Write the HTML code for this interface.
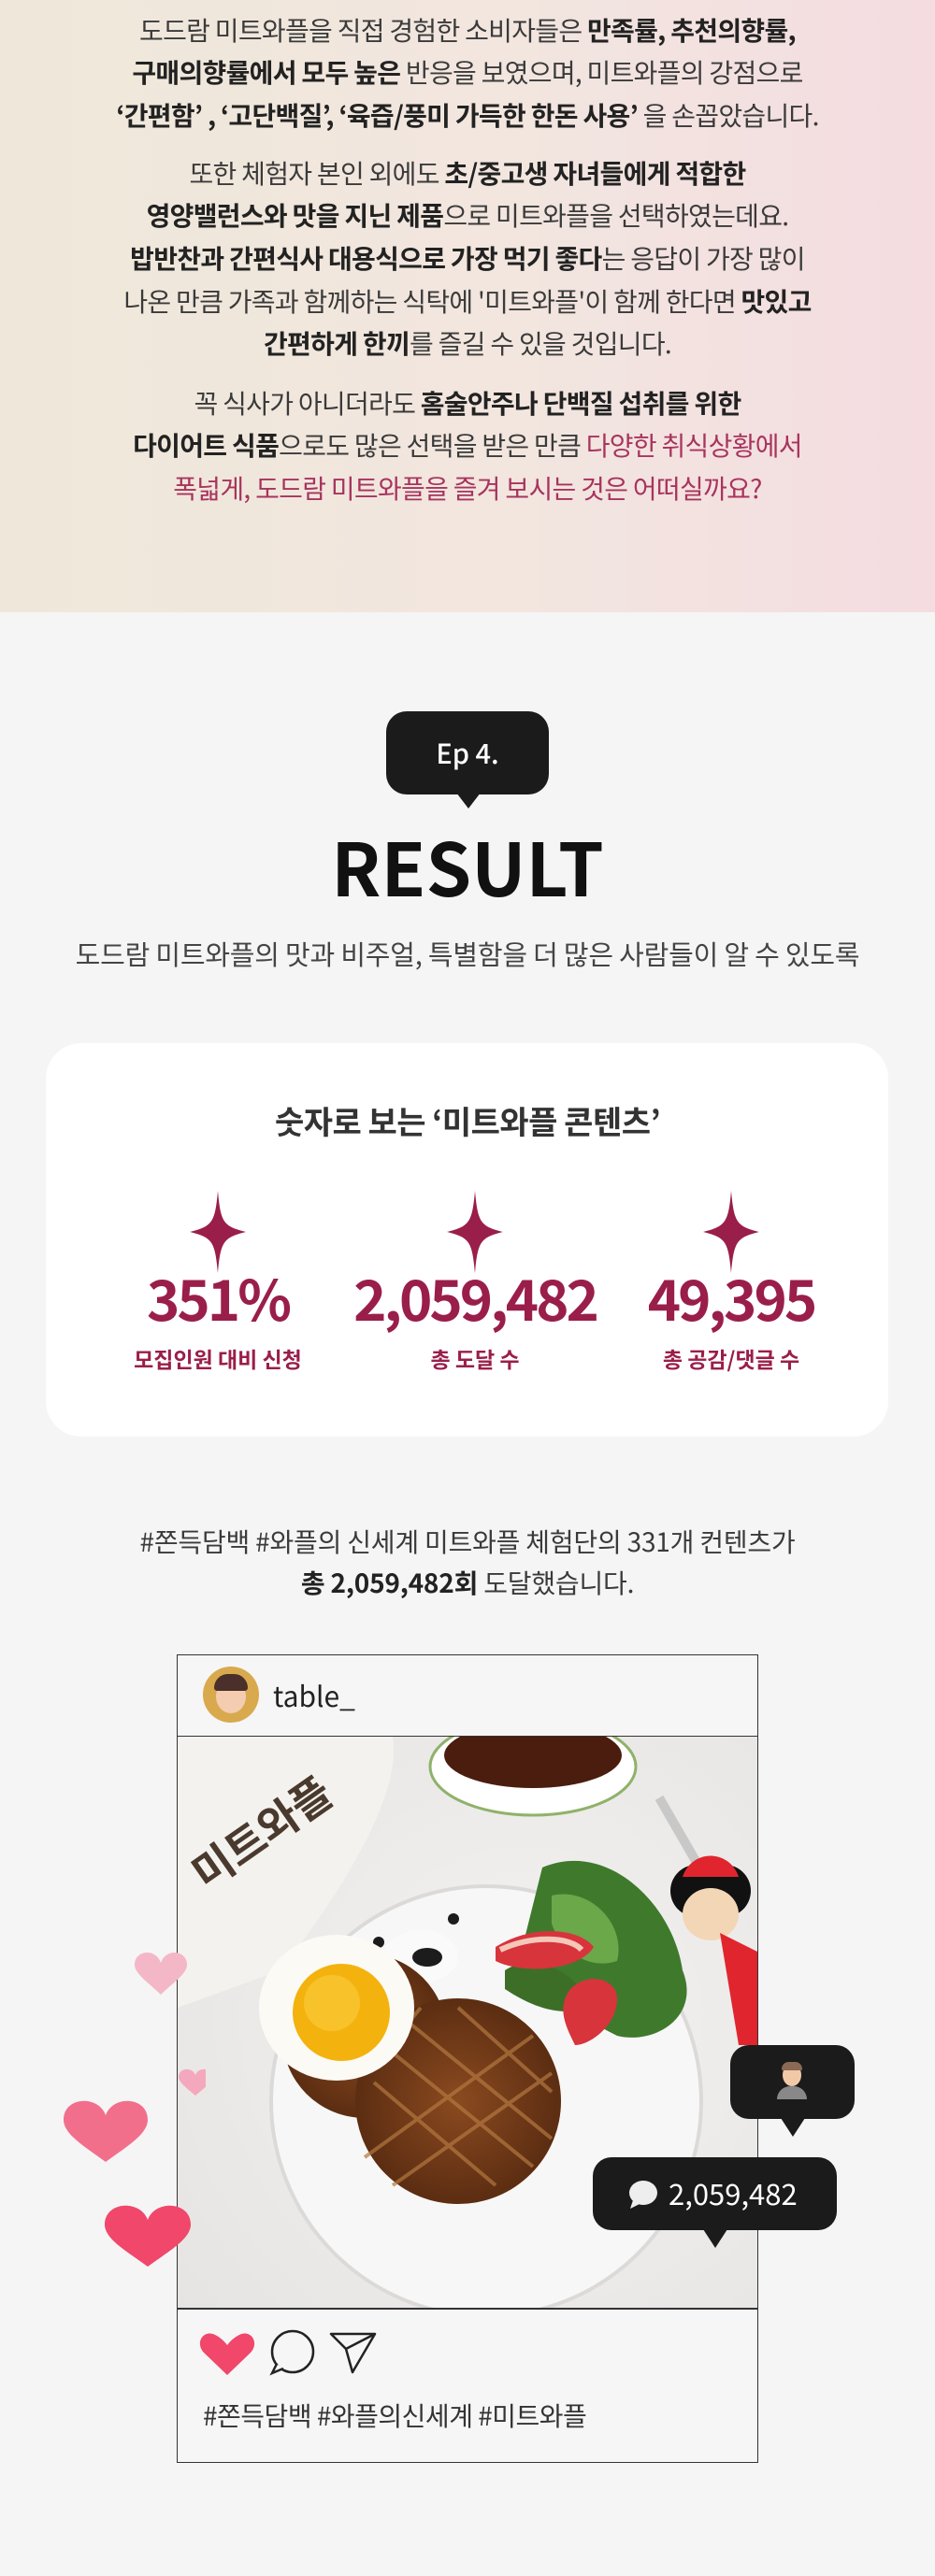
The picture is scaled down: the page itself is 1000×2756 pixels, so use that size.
<!DOCTYPE html>
<html><head><meta charset="utf-8">
<style>
*{margin:0;padding:0;box-sizing:border-box}
body{width:1000px;height:2756px;background:#f5f5f5;font-family:"Noto Sans CJK KR","Liberation Sans",sans-serif;position:relative;overflow:hidden}
.abs{position:absolute}
#top{left:0;top:0;width:1000px;height:655px;background:linear-gradient(90deg,#efe8da 0%,#f2e6df 55%,#f4dce1 100%)}
.tl{position:absolute;left:0;width:1000px;text-align:center;font-size:28px;color:#3a3a3a;line-height:46px;letter-spacing:-0.7px}
.tl b{color:#222;font-weight:700}
.pk{color:#a8345e}
.c{position:absolute;left:0;width:1000px;text-align:center}
</style></head><body>
<div id="top" class="abs">
<div class="tl" style="top:9px">도드람 미트와플을 직접 경험한 소비자들은 <b>만족률, 추천의향률,</b></div>
<div class="tl" style="top:54px"><b>구매의향률에서 모두 높은</b> 반응을 보였으며, 미트와플의 강점으로</div>
<div class="tl" style="top:100px"><b>‘간편함’ , ‘고단백질’, ‘육즙/풍미 가득한 한돈 사용’</b> 을 손꼽았습니다.</div>
<div class="tl" style="top:162px">또한 체험자 본인 외에도 <b>초/중고생 자녀들에게 적합한</b></div>
<div class="tl" style="top:207px"><b>영양밸런스와 맛을 지닌 제품</b>으로 미트와플을 선택하였는데요.</div>
<div class="tl" style="top:253px"><b>밥반찬과 간편식사 대용식으로 가장 먹기 좋다</b>는 응답이 가장 많이</div>
<div class="tl" style="top:299px">나온 만큼 가족과 함께하는 식탁에 '미트와플'이 함께 한다면 <b>맛있고</b></div>
<div class="tl" style="top:344px"><b>간편하게 한끼</b>를 즐길 수 있을 것입니다.</div>
<div class="tl" style="top:408px">꼭 식사가 아니더라도 <b>홈술안주나 단백질 섭취를 위한</b></div>
<div class="tl" style="top:453px"><b>다이어트 식품</b>으로도 많은 선택을 받은 만큼 <span class="pk">다양한 취식상황에서</span></div>
<div class="tl pk" style="top:499px">폭넓게, 도드람 미트와플을 즐겨 보시는 것은 어떠실까요?</div>
</div>

<div class="abs" style="left:413px;top:761px;width:174px;height:89px;background:#1b1b1b;border-radius:22px">
<div style="color:#fff;font-size:29px;text-align:center;line-height:89px;font-weight:500">Ep 4.</div></div>
<div class="abs" style="left:488px;top:848px;width:0;height:0;border-left:13px solid transparent;border-right:13px solid transparent;border-top:17px solid #1b1b1b"></div>
<div class="c" style="top:876px;font-size:78px;font-weight:700;color:#111;line-height:100px">RESULT</div>
<div class="c" style="top:1000px;font-size:29px;color:#444;line-height:40px;letter-spacing:-0.2px">도드람 미트와플의 맛과 비주얼, 특별함을 더 많은 사람들이 알 수 있도록</div>

<div class="abs" style="left:49px;top:1116px;width:901px;height:421px;background:#fff;border-radius:38px"></div>
<div class="c" style="top:1176px;font-size:34px;font-weight:700;color:#333;line-height:46px;letter-spacing:-0.5px">숫자로 보는 ‘미트와플 콘텐츠’</div>

<svg class="abs" style="left:0;top:1270px" width="1000" height="100">
<g fill="#9a1e4a">
<path transform="translate(233,48)" d="M0,-44 C3,-10 6,-6 30,0 C6,6 3,10 0,44 C-3,10 -6,6 -30,0 C-6,-6 -3,-10 0,-44Z"/>
<path transform="translate(508,48)" d="M0,-44 C3,-10 6,-6 30,0 C6,6 3,10 0,44 C-3,10 -6,6 -30,0 C-6,-6 -3,-10 0,-44Z"/>
<path transform="translate(782,48)" d="M0,-44 C3,-10 6,-6 30,0 C6,6 3,10 0,44 C-3,10 -6,6 -30,0 C-6,-6 -3,-10 0,-44Z"/>
</g></svg>

<div class="abs" style="left:83px;top:1348px;width:300px;text-align:center;font-size:60px;font-weight:700;color:#9a1e4a;letter-spacing:-3px;line-height:80px">351%</div>
<div class="abs" style="left:358px;top:1348px;width:300px;text-align:center;font-size:60px;font-weight:700;color:#9a1e4a;letter-spacing:-3px;line-height:80px">2,059,482</div>
<div class="abs" style="left:632px;top:1348px;width:300px;text-align:center;font-size:60px;font-weight:700;color:#9a1e4a;letter-spacing:-3px;line-height:80px">49,395</div>
<div class="abs" style="left:83px;top:1436px;width:300px;text-align:center;font-size:23px;font-weight:700;color:#9a1e4a;line-height:34px">모집인원 대비 신청</div>
<div class="abs" style="left:358px;top:1436px;width:300px;text-align:center;font-size:23px;font-weight:700;color:#9a1e4a;line-height:34px">총 도달 수</div>
<div class="abs" style="left:632px;top:1436px;width:300px;text-align:center;font-size:23px;font-weight:700;color:#9a1e4a;line-height:34px">총 공감/댓글 수</div>

<div class="c" style="top:1627px;font-size:28px;color:#3a3a3a;line-height:44px;letter-spacing:-0.2px">#쫀득담백 #와플의 신세계 미트와플 체험단의 331개 컨텐츠가<br><b style="color:#222">총 2,059,482회</b> 도달했습니다.</div>

<div class="abs" style="left:189px;top:1770px;width:622px;height:865px;border:1.5px solid #333;background:#f6f6f6"></div>
<div class="abs" style="left:217px;top:1783px;width:60px;height:60px;border-radius:50%;background:#d9a94e;overflow:hidden">
<div style="position:absolute;left:14px;top:14px;width:32px;height:36px;border-radius:50%;background:#f4cdb0"></div>
<div style="position:absolute;left:12px;top:8px;width:36px;height:18px;border-radius:18px 18px 4px 4px;background:#4a2f2a"></div></div>
<div class="abs" style="left:292px;top:1792px;font-size:30px;color:#222;line-height:42px">table_</div>
<div class="abs" style="left:189px;top:1857px;width:622px;height:1.5px;background:#333"></div>

<svg class="abs" style="left:190px;top:1858px" width="620" height="611">
<defs>
<radialGradient id="bg" cx="0.6" cy="0.5" r="0.8"><stop offset="0" stop-color="#f3f2f1"/><stop offset="1" stop-color="#e6e4e2"/></radialGradient>
<radialGradient id="wf" cx="0.5" cy="0.5" r="0.5"><stop offset="0" stop-color="#8a4a1f"/><stop offset="1" stop-color="#5c2d12"/></radialGradient>
</defs>
<rect width="620" height="611" fill="url(#bg)"/>
<path d="M0,0 L230,0 C240,60 180,160 110,250 L0,290 Z" fill="#f4f2ee"/>
<text x="10" y="140" font-size="46" font-weight="700" fill="#4a3a2e" transform="rotate(-35 60 120)" font-family="Noto Sans CJK KR">미트와플</text>
<ellipse cx="380" cy="32" rx="110" ry="52" fill="#fff" stroke="#8fb26a" stroke-width="3"/>
<ellipse cx="380" cy="20" rx="95" ry="35" fill="#4a1d0e"/>
<circle cx="330" cy="390" r="230" fill="#f7f7f7" stroke="#dcdad8" stroke-width="4"/>
<ellipse cx="260" cy="235" rx="40" ry="28" fill="#fafafa"/>
<ellipse cx="267" cy="236" rx="16" ry="10" fill="#1c1c1c"/>
<circle cx="215" cy="220" r="6" fill="#1c1c1c"/><circle cx="295" cy="195" r="6" fill="#1c1c1c"/>
<path d="M390,140 C460,110 530,180 540,250 C560,300 510,330 470,320 C430,300 380,270 370,220 Z" fill="#3f7a2c"/>
<path d="M400,170 C440,160 480,200 470,240 C440,250 410,230 400,200 Z" fill="#6aa84a"/>
<path d="M350,250 C380,230 430,250 440,290 C410,300 380,290 350,270 Z" fill="#3c6e27"/>
<path d="M340,225 C380,200 430,205 445,225 C430,250 370,255 340,240 Z" fill="#d8343c"/>
<path d="M420,270 C440,250 470,260 470,280 C470,310 440,330 425,330 C415,310 405,290 420,270 Z" fill="#d8343c"/>
<path d="M345,228 C380,212 420,214 432,228" stroke="#f4c7b9" stroke-width="6" fill="none"/>
<circle cx="200" cy="320" r="88" fill="url(#wf)"/>
<circle cx="300" cy="390" r="110" fill="url(#wf)"/>
<g stroke="#b37840" stroke-width="4" opacity="0.7">
<path d="M220,330 L380,460 M240,300 L400,430 M210,370 L340,480 M300,290 L400,380 M200,450 L380,320 M230,480 L400,360 M260,290 L210,350"/>
</g>
<ellipse cx="170" cy="290" rx="83" ry="78" fill="#fbfaf5"/>
<circle cx="175" cy="295" r="52" fill="#f4b20e"/>
<circle cx="165" cy="285" r="30" fill="#f9c532" opacity="0.8"/>
<rect x="530" y="60" width="10" height="90" fill="#c8c8c8" transform="rotate(-30 535 100)"/>
<circle cx="555" cy="165" r="28" fill="#111"/><circle cx="585" cy="165" r="28" fill="#111"/>
<ellipse cx="570" cy="190" rx="30" ry="28" fill="#f3d6b6"/>
<path d="M540,150 C550,120 590,120 600,150 Z" fill="#e1252f"/>
<path d="M580,210 L620,230 L620,330 L600,330 Z" fill="#e1252f"/>
</svg>
<div class="abs" style="left:189px;top:2469px;width:622px;height:1.5px;background:#333"></div>

<svg class="abs" style="left:210px;top:2488px" width="200" height="60">
<path d="M33,47 L8,23 C-2,12 8,-2 20,4 C26,7 30,11 33,15 C36,11 40,7 46,4 C58,-2 68,12 58,23 Z" transform="translate(0,6)" fill="#f0476b"/>
<g><circle cx="103" cy="28" r="22" fill="none" stroke="#222" stroke-width="2.5"/><path d="M86,41 L81,51 L93,46" fill="#f6f6f6" stroke="#222" stroke-width="2.5"/></g>
<path d="M144,9 L191,9 L167,50 L160,25 Z M160,25 L191,9" fill="none" stroke="#222" stroke-width="2.5" stroke-linejoin="round"/>
</svg>
<div class="abs" style="left:217px;top:2564px;font-size:28px;color:#333;line-height:40px;letter-spacing:-0.5px">#쫀득담백 #와플의신세계 #미트와플</div>

<svg class="abs" style="left:60px;top:2060px" width="160" height="380">
<path d="M0,18 C-5,2 -28,4 -28,20 C-28,30 -12,40 0,52 C12,40 28,30 28,20 C28,4 5,2 0,18Z" transform="translate(112,22)" fill="#f4b7c8"/>
<path d="M0,10 C-3,1 -18,2 -18,12 C-18,18 -8,25 0,32 C8,25 18,18 18,12 C18,2 3,1 0,10Z" transform="translate(149,150)" fill="#f4a8bd"/>
<path d="M0,25 C-8,3 -45,5 -45,30 C-45,46 -20,60 0,75 C20,60 45,46 45,30 C45,5 8,3 0,25Z" transform="translate(53,178)" fill="#f26f8c"/>
<path d="M0,25 C-8,3 -46,5 -46,30 C-46,46 -20,60 0,75 C20,60 46,46 46,30 C46,5 8,3 0,25Z" transform="translate(98,290)" fill="#f0476b"/>
</svg>

<div class="abs" style="left:781px;top:2188px;width:133px;height:79px;background:#1b1b1b;border-radius:20px">
<div style="position:absolute;left:50px;top:18px;width:32px;height:40px">
<div style="position:absolute;left:6px;top:2px;width:20px;height:24px;border-radius:50%;background:#f2c9a8"></div>
<div style="position:absolute;left:5px;top:0;width:22px;height:9px;border-radius:10px 10px 2px 2px;background:#8a6a55"></div>
<div style="position:absolute;left:0;top:26px;width:32px;height:14px;border-radius:14px 14px 0 0;background:#888"></div></div></div>
<div class="abs" style="left:835px;top:2266px;border-left:13px solid transparent;border-right:13px solid transparent;border-top:20px solid #1b1b1b"></div>

<div class="abs" style="left:634px;top:2308px;width:261px;height:78px;background:#1b1b1b;border-radius:20px">
<svg style="position:absolute;left:38px;top:24px" width="34" height="32"><ellipse cx="16" cy="14" rx="15" ry="13" fill="#eee"/><path d="M5,22 L2,31 L12,26Z" fill="#eee"/></svg>
<div style="position:absolute;left:81px;top:16px;font-size:31px;color:#fff;line-height:44px">2,059,482</div></div>
<div class="abs" style="left:752px;top:2385px;border-left:13px solid transparent;border-right:13px solid transparent;border-top:20px solid #1b1b1b"></div>
</body></html>
